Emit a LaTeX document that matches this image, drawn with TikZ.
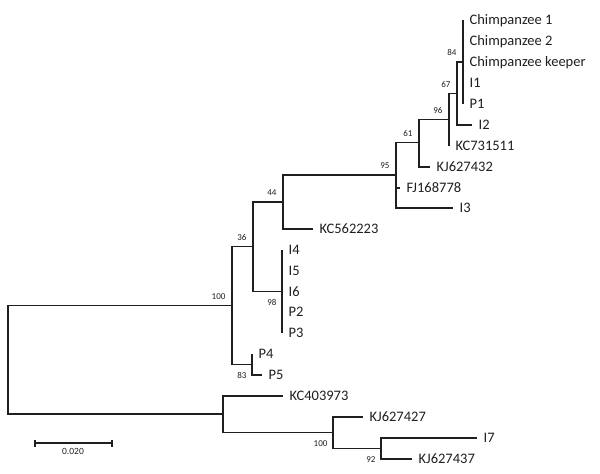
\documentclass[tikz,border=0pt]{standalone}
\usepackage{fontspec}
\setmainfont{Carlito}
\usetikzlibrary{positioning}

\begin{document}
\begin{tikzpicture}[x=1pt, y=-1pt, line width=1.2pt, color=black!88,
    taxon/.style={anchor=base west, inner sep=0pt, xshift=6pt, yshift=-4.7pt, font=\fontsize{14.5}{16}\selectfont},
    bsup/.style={anchor=base east, inner sep=0pt, xshift=-6pt, yshift=6.5pt, font=\fontsize{9}{10}\selectfont},
    bsdn/.style={anchor=base east, inner sep=0pt, xshift=-5pt, yshift=-14pt, font=\fontsize{9}{10}\selectfont}]
      \useasboundingbox (0,0) rectangle (600,474);
      % internal nodes
      \coordinate (root) at (8,360); \coordinate (n100) at (232,305.5); \coordinate (nb) at (223,414);
      \coordinate (n36) at (253,246.5); \coordinate (n83) at (252,364.5);
      \coordinate (n44) at (283,202); \coordinate (n98) at (282,291.5);
      \coordinate (n95) at (396,175); \coordinate (n61) at (419,142.5); \coordinate (n96) at (449,119.5);
      \coordinate (n67) at (457,93.5); \coordinate (n84) at (463,62);
      \coordinate (nb100) at (333,432.5); \coordinate (n92) at (381,448.5);
      % tips
      \coordinate (ch1) at (463,20); \coordinate (ch2) at (463,41); \coordinate (chk) at (463,62);
      \coordinate (i1) at (463,83); \coordinate (p1) at (463,104); \coordinate (i2) at (472,125);
      \coordinate (kc731) at (449,146); \coordinate (kj432) at (430,167); \coordinate (fj) at (400,188);
      \coordinate (i3) at (453,208); \coordinate (kc562) at (313,229);
      \coordinate (i4) at (282,250); \coordinate (i5) at (282,271); \coordinate (i6) at (282,291.5);
      \coordinate (p2) at (282,312); \coordinate (p3) at (282,333);
      \coordinate (p4) at (252,354); \coordinate (p5) at (262,375);
      \coordinate (kc403) at (283,396); \coordinate (kj427) at (363,417);
      \coordinate (i7) at (477,438); \coordinate (kj437) at (412,459);
      % branches
      \draw (root) |- (n100) (root) |- (nb);
      \draw (n100) |- (n36) (n100) |- (n83);
      \draw (n36) |- (n44) (n36) |- (n98);
      \draw (n44) |- (n95) (n44) |- (kc562);
      \draw (n95) |- (n61) (n95) |- (fj) (n95) |- (i3);
      \draw (n61) |- (n96) (n61) |- (kj432);
      \draw (n96) |- (n67) (n96) |- (kc731);
      \draw (n67) |- (n84) (n67) |- (i2);
      \draw (n84) -- (ch1) (n84) -- (p1);
      \draw (n98) -- (i4) (n98) -- (p3);
      \draw (n83) |- (p4) (n83) |- (p5);
      \draw (nb) |- (kc403) (nb) |- (nb100);
      \draw (nb100) |- (kj427) (nb100) |- (n92);
      \draw (n92) |- (i7) (n92) |- (kj437);
      % taxon names
      \node[taxon] (lch1) at (ch1) {Chimpanzee 1};
      \node[taxon] (lch2) at (ch2) {Chimpanzee 2};
      \node[taxon] (lchk) at (chk) {Chimpanzee keeper};
      \node[taxon] (li1) at (i1) {I1};
      \node[taxon] (lp1) at (p1) {P1};
      \node[taxon] (li2) at (i2) {I2};
      \node[taxon] (lkc731) at (kc731) {KC731511};
      \node[taxon] (lkj432) at (kj432) {KJ627432};
      \node[taxon] (lfj) at (fj) {FJ168778};
      \node[taxon] (li3) at (i3) {I3};
      \node[taxon] (lkc562) at (kc562) {KC562223};
      \node[taxon] (li4) at (i4) {I4};
      \node[taxon] (li5) at (i5) {I5};
      \node[taxon] (li6) at (i6) {I6};
      \node[taxon] (lp2) at (p2) {P2};
      \node[taxon] (lp3) at (p3) {P3};
      \node[taxon] (lp4) at (p4) {P4};
      \node[taxon] (lp5) at (p5) {P5};
      \node[taxon] (lkc403) at (kc403) {KC403973};
      \node[taxon] (lkj427) at (kj427) {KJ627427};
      \node[taxon] (li7) at (i7) {I7};
      \node[taxon] (lkj437) at (kj437) {KJ627437};
      % bootstrap values
      \node[bsup] (b84) at (n84) {84};
      \node[bsup] (b67) at (n67) {67};
      \node[bsup] (b96) at (n96) {96};
      \node[bsup] (b61) at (n61) {61};
      \node[bsup] (b95) at (n95) {95};
      \node[bsup] (b44) at (n44) {44};
      \node[bsup] (b36) at (n36) {36};
      \node[bsup] (b100) at (n100) {100};
      \node[bsdn] (b98) at (n98) {98};
      \node[bsdn] (b83) at (n83) {83};
      \node[bsdn] (bb100) at (nb100) {100};
      \node[bsdn] (b92) at (n92) {92};
      % scale bar
      \coordinate (sb0) at (35,443); \coordinate (sb1) at (112,443);
      \draw (sb0) -- (sb1);
      \draw ([yshift=3.5pt]sb0) -- ([yshift=-3.5pt]sb0) ([yshift=3.5pt]sb1) -- ([yshift=-3.5pt]sb1);
      \node[font=\fontsize{9.5}{10}\selectfont, inner sep=0pt, anchor=base] (sbl) at (73,454) {0.020};
    \end{tikzpicture}
\end{document}
